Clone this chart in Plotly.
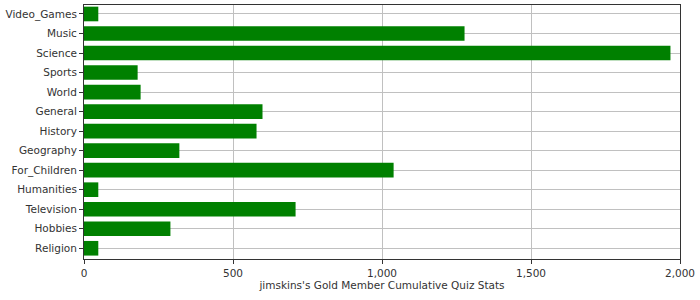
import plotly.graph_objects as go

categories = ["Video_Games", "Music", "Science", "Sports", "World", "General", "History",
              "Geography", "For_Children", "Humanities", "Television", "Hobbies", "Religion"]
values = [48, 1277, 1968, 180, 190, 599, 579, 320, 1039, 48, 710, 290, 48]

fig = go.Figure(go.Bar(
    y=categories, x=values, orientation="h",
    marker=dict(color="#008000", line=dict(width=0)),
    width=0.75,
))

fig.update_layout(
    width=700, height=300,
    margin=dict(l=84, r=20, t=5, b=41),
    paper_bgcolor="white", plot_bgcolor="white",
    font=dict(family="DejaVu Sans", size=10.5, color="#333333"),
    showlegend=False,
)
fig.update_xaxes(
    range=[0, 2000], tickvals=[0, 500, 1000, 1500, 2000], tickformat=",",
    showgrid=True, gridcolor="#c0c0c0", gridwidth=1,
    showline=True, linecolor="#333333", linewidth=1, mirror=True,
    ticks="outside", ticklen=4, tickcolor="#333333",
    title=dict(text="jimskins's Gold Member Cumulative Quiz Stats", standoff=4,
               font=dict(size=10.5, color="#333333")),
    zeroline=False, automargin=False,
)
fig.update_yaxes(
    categoryorder="array", categoryarray=categories,
    range=[12.55, -0.46],
    showgrid=True, gridcolor="#c0c0c0", gridwidth=1,
    showline=True, linecolor="#333333", linewidth=1, mirror=True,
    ticks="outside", ticklen=4, tickcolor="#333333",
    automargin=False,
)

fig.write_html("out.html")
